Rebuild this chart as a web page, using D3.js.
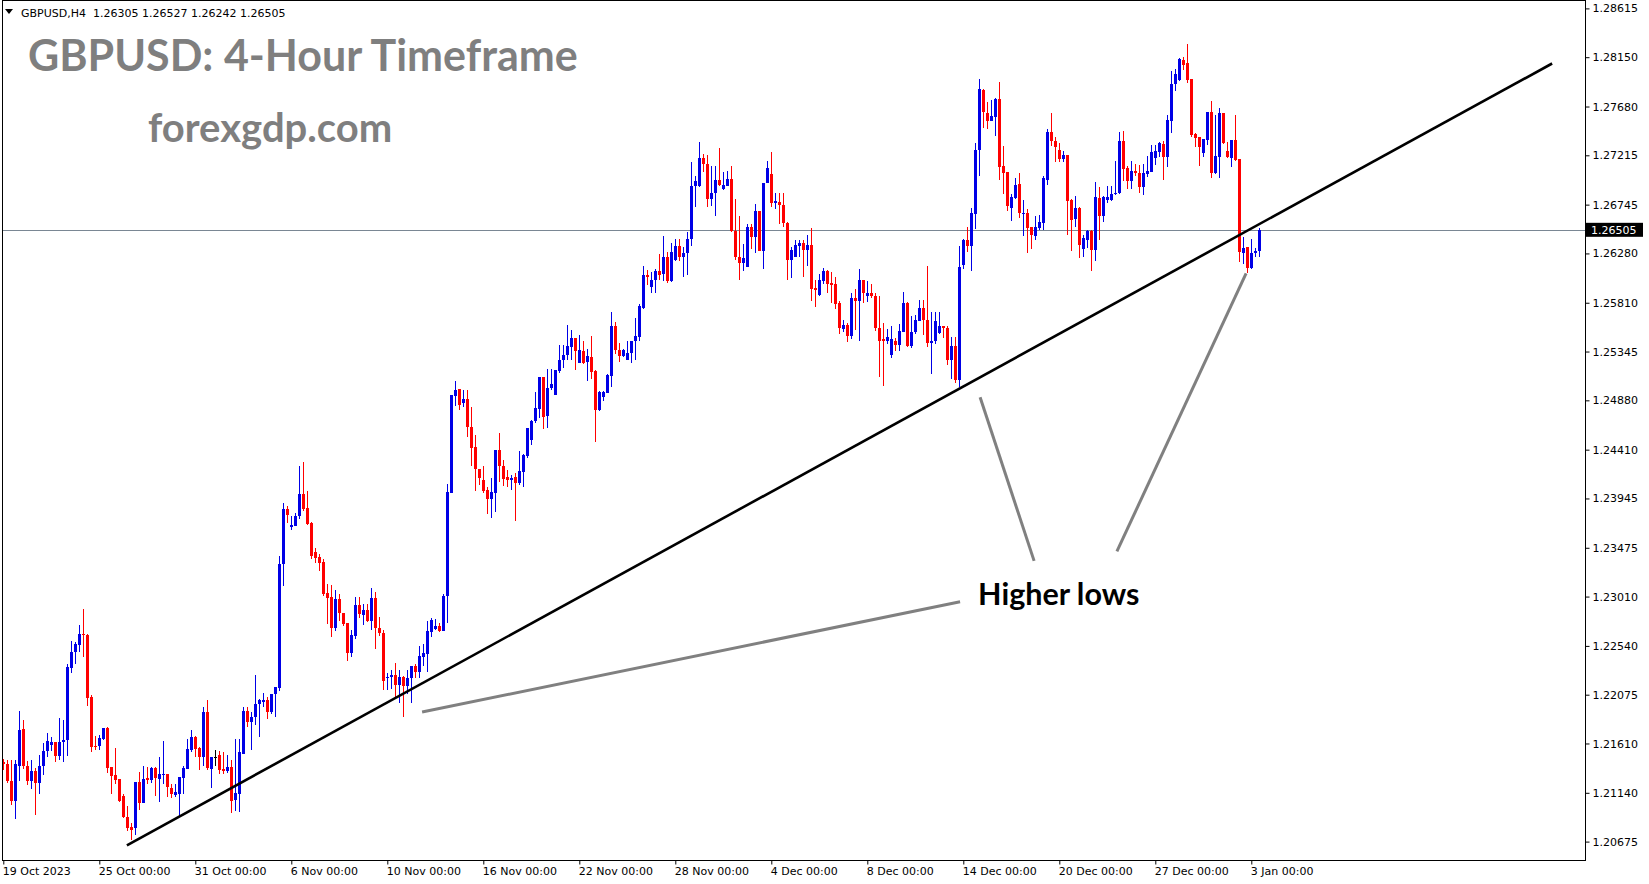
<!DOCTYPE html>
<html><head><meta charset="utf-8">
<script src="https://cdn.jsdelivr.net/npm/d3@7"></script>
<style>
html,body{margin:0;padding:0;background:#fff;}
svg{display:block;}
</style></head><body>
<svg id="chart" width="1649" height="884"></svg>
<script>
const symbolInfo = "GBPUSD,H4  1.26305 1.26527 1.26242 1.26505";
const titleText = "GBPUSD: 4-Hour Timeframe";
const siteText = "forexgdp.com";
const annotationText = "Higher lows";
const currentPrice = 1.26505;
const yTickValues = [1.28615,1.28150,1.27680,1.27215,1.26745,1.26280,1.25810,1.25345,1.24880,1.24410,1.23945,1.23475,1.23010,1.22540,1.22075,1.21610,1.21140,1.20675];
const xTickBars = [0,24,48,72,96,120,144,168,192,216,240,264,288,312];
const xTickLabels = ["19 Oct 2023","25 Oct 00:00","31 Oct 00:00","6 Nov 00:00","10 Nov 00:00","16 Nov 00:00","22 Nov 00:00","28 Nov 00:00","4 Dec 00:00","8 Dec 00:00","14 Dec 00:00","20 Dec 00:00","27 Dec 00:00","3 Jan 00:00"];

const openVals = [
1.2143,1.2141,1.2125,1.2106,1.2140,1.2175,1.2140,1.2125,1.2135,1.2123,
1.2140,1.2154,1.2160,1.2162,1.2149,1.2162,1.2164,1.2233,1.2248,1.2255,
1.2265,1.2264,1.2205,1.2159,1.2159,1.2165,1.2176,1.2139,1.2131,1.2127,
1.2111,1.2091,1.2081,1.2080,1.2124,1.2104,1.2128,1.2126,1.2138,1.2127,
1.2131,1.2132,1.2119,1.2112,1.2113,1.2128,1.2137,1.2155,1.2167,1.2157,
1.2148,1.2191,1.2137,1.2148,1.2150,1.2137,1.2135,1.2139,1.2107,1.2113,
1.2151,1.2192,1.2181,1.2186,1.2199,1.2201,1.2202,1.2191,1.2208,1.2214,
1.2332,1.2384,1.2367,1.2368,1.2378,1.2399,1.2385,1.2371,1.2343,1.2339,
1.2334,1.2304,1.2301,1.2271,1.2299,1.2285,1.2276,1.2247,1.2263,1.2293,
1.2283,1.2288,1.2278,1.2300,1.2271,1.2266,1.2223,1.2224,1.2226,1.2217,
1.2224,1.2216,1.2223,1.2235,1.2229,1.2243,1.2246,1.2267,1.2270,1.2273,
1.2268,1.2302,1.2400,1.2492,1.2499,1.2485,1.2489,1.2463,1.2444,1.2423,
1.2412,1.2403,1.2394,1.2400,1.2441,1.2425,1.2415,1.2412,1.2415,1.2409,
1.2420,1.2435,1.2450,1.2468,1.2480,1.2510,1.2473,1.2500,1.2493,1.2516,
1.2526,1.2531,1.2539,1.2547,1.2524,1.2535,1.2525,1.2529,1.2516,1.2479,
1.2491,1.2495,1.2511,1.2559,1.2536,1.2530,1.2526,1.2533,1.2545,1.2548,
1.2576,1.2607,1.2596,1.2603,1.2611,1.2608,1.2625,1.2602,1.2622,1.2635,
1.2625,1.2628,1.2642,1.2692,1.2692,1.2719,1.2713,1.2680,1.2686,1.2698,
1.2689,1.2692,1.2699,1.2649,1.2625,1.2619,1.2615,1.2653,1.2644,1.2668,
1.2630,1.2695,1.2704,1.2676,1.2677,1.2674,1.2657,1.2622,1.2625,1.2635,
1.2638,1.2631,1.2636,1.2595,1.2588,1.2602,1.2611,1.2600,1.2599,1.2581,
1.2556,1.2560,1.2549,1.2586,1.2583,1.2603,1.2587,1.2590,1.2587,1.2557,
1.2546,1.2545,1.2531,1.2545,1.2541,1.2553,1.2581,1.2540,1.2553,1.2564,
1.2576,1.2565,1.2543,1.2545,1.2552,1.2559,1.2557,1.2526,1.2540,1.2507,
1.2617,1.2641,1.2635,1.2666,1.2727,1.2784,1.2762,1.2754,1.2758,1.2775,
1.2711,1.2706,1.2671,1.2681,1.2694,1.2666,1.2667,1.2653,1.2645,1.2652,
1.2657,1.2698,1.2744,1.2735,1.2727,1.2718,1.2722,1.2679,1.2661,1.2671,
1.2632,1.2641,1.2649,1.2631,1.2681,1.2664,1.2679,1.2679,1.2685,1.2686,
1.2735,1.2709,1.2697,1.2707,1.2705,1.2691,1.2704,1.2706,1.2719,1.2725,
1.2732,1.2720,1.2754,1.2789,1.2793,1.2812,1.2809,1.2794,1.2742,1.2739,
1.2724,1.2736,1.2763,1.2705,1.2720,1.2762,1.2726,1.2719,1.2736,1.2718,
1.2628,1.2634,1.2614,1.2628,1.26305];

const highVals = [
1.2146,1.2145,1.2145,1.2145,1.2192,1.2183,1.2144,1.2145,1.2138,1.2150,
1.2161,1.2171,1.2167,1.2162,1.2185,1.2183,1.2237,1.2259,1.2258,1.2274,
1.2289,1.2265,1.2207,1.2168,1.2169,1.2176,1.2177,1.2139,1.2157,1.2127,
1.2113,1.2101,1.2085,1.2124,1.2134,1.2140,1.2139,1.2139,1.2139,1.2148,
1.2163,1.2132,1.2122,1.2122,1.2129,1.2140,1.2165,1.2174,1.2168,1.2158,
1.2196,1.2202,1.2148,1.2155,1.2154,1.2153,1.2150,1.2145,1.2165,1.2165,
1.2196,1.2196,1.2191,1.2226,1.2203,1.2209,1.2205,1.2208,1.2215,1.2340,
1.2390,1.2387,1.2378,1.2381,1.2425,1.2429,1.2402,1.2372,1.2347,1.2342,
1.2337,1.2313,1.2312,1.2307,1.2303,1.2285,1.2276,1.2269,1.2301,1.2301,
1.2294,1.2294,1.2309,1.2305,1.2282,1.2269,1.2228,1.2231,1.2238,1.2231,
1.2225,1.2231,1.2235,1.2237,1.2254,1.2256,1.2278,1.2281,1.2280,1.2276,
1.2303,1.2408,1.2493,1.2506,1.2499,1.2498,1.2498,1.2482,1.2455,1.2423,
1.2425,1.2405,1.2414,1.2441,1.2457,1.2431,1.2422,1.2417,1.2419,1.2440,
1.2437,1.2462,1.2469,1.2496,1.2510,1.2510,1.2518,1.2518,1.2517,1.2541,
1.2541,1.2560,1.2555,1.2547,1.2550,1.2545,1.2537,1.2549,1.2517,1.2497,
1.2497,1.2513,1.2572,1.2563,1.2543,1.2537,1.2545,1.2545,1.2566,1.2580,
1.2616,1.2612,1.2610,1.2613,1.2627,1.2645,1.2629,1.2638,1.2642,1.2642,
1.2634,1.2648,1.2715,1.2702,1.2734,1.2723,1.2722,1.2711,1.2711,1.2728,
1.2706,1.2707,1.2711,1.2680,1.2664,1.2637,1.2656,1.2656,1.2675,1.2668,
1.2695,1.2716,1.2725,1.2686,1.2686,1.2686,1.2658,1.2634,1.2641,1.2641,
1.2641,1.2646,1.2652,1.2603,1.2608,1.2614,1.2612,1.2610,1.2606,1.2583,
1.2565,1.2562,1.2590,1.2594,1.2613,1.2603,1.2602,1.2599,1.2590,1.2587,
1.2562,1.2556,1.2559,1.2547,1.2561,1.2591,1.2582,1.2568,1.2569,1.2584,
1.2584,1.2616,1.2572,1.2572,1.2572,1.2559,1.2559,1.2548,1.2548,1.2635,
1.2642,1.2653,1.2671,1.2733,1.2794,1.2785,1.2772,1.2774,1.2776,1.2791,
1.2730,1.2706,1.2685,1.2700,1.2705,1.2679,1.2670,1.2653,1.2664,1.2665,
1.2702,1.2747,1.2762,1.2739,1.2733,1.2726,1.2722,1.2680,1.2683,1.2672,
1.2646,1.2650,1.2650,1.2696,1.2691,1.2683,1.2692,1.2692,1.2716,1.2744,
1.2745,1.2711,1.2716,1.2713,1.2712,1.2713,1.2721,1.2731,1.2731,1.2734,
1.2735,1.2760,1.2802,1.2804,1.2814,1.2815,1.2828,1.2794,1.2743,1.2739,
1.2737,1.2763,1.2773,1.2760,1.2767,1.2762,1.2734,1.2736,1.2760,1.2718,
1.2644,1.2634,1.2642,1.2633,1.26527];

const lowVals = [
1.2136,1.2123,1.2102,1.2089,1.2125,1.2137,1.2121,1.2118,1.2093,1.2113,
1.2131,1.2148,1.2154,1.2143,1.2145,1.2143,1.2149,1.2228,1.2237,1.2248,
1.2243,1.2197,1.2153,1.2155,1.2155,1.2164,1.2133,1.2113,1.2122,1.2105,
1.2090,1.2078,1.2069,1.2074,1.2098,1.2104,1.2122,1.2123,1.2111,1.2105,
1.2122,1.2110,1.2109,1.2110,1.2092,1.2113,1.2137,1.2153,1.2148,1.2136,
1.2140,1.2136,1.2119,1.2140,1.2132,1.2132,1.2133,1.2095,1.2097,1.2096,
1.2151,1.2177,1.2155,1.2179,1.2167,1.2196,1.2184,1.2189,1.2186,1.2211,
1.2311,1.2371,1.2364,1.2368,1.2375,1.2383,1.2369,1.2337,1.2333,1.2325,
1.2302,1.2275,1.2262,1.2268,1.2278,1.2273,1.2240,1.2243,1.2261,1.2281,
1.2274,1.2277,1.2269,1.2251,1.2263,1.2212,1.2212,1.2213,1.2205,1.2200,
1.2186,1.2208,1.2200,1.2223,1.2223,1.2235,1.2229,1.2262,1.2269,1.2267,
1.2268,1.2276,1.2400,1.2483,1.2479,1.2482,1.2453,1.2425,1.2402,1.2407,
1.2400,1.2380,1.2376,1.2382,1.2410,1.2406,1.2405,1.2403,1.2373,1.2407,
1.2405,1.2433,1.2445,1.2466,1.2471,1.2461,1.2462,1.2498,1.2493,1.2514,
1.2519,1.2526,1.2526,1.2517,1.2524,1.2523,1.2506,1.2508,1.2448,1.2478,
1.2487,1.2495,1.2501,1.2532,1.2525,1.2529,1.2526,1.2524,1.2526,1.2545,
1.2575,1.2598,1.2590,1.2590,1.2603,1.2602,1.2600,1.2601,1.2621,1.2621,
1.2606,1.2607,1.2635,1.2672,1.2691,1.2706,1.2672,1.2673,1.2664,1.2692,
1.2688,1.2692,1.2648,1.2622,1.2603,1.2611,1.2615,1.2632,1.2628,1.2630,
1.2613,1.2695,1.2672,1.2670,1.2656,1.2653,1.2603,1.2605,1.2625,1.2625,
1.2606,1.2616,1.2583,1.2577,1.2587,1.2599,1.2590,1.2581,1.2575,1.2551,
1.2553,1.2544,1.2546,1.2555,1.2545,1.2581,1.2582,1.2586,1.2554,1.2510,
1.2502,1.2542,1.2528,1.2535,1.2535,1.2553,1.2539,1.2538,1.2551,1.2564,
1.2550,1.2539,1.2513,1.2542,1.2551,1.2547,1.2522,1.2508,1.2505,1.2501,
1.2613,1.2629,1.2611,1.2651,1.2702,1.2748,1.2747,1.2754,1.2740,1.2698,
1.2685,1.2668,1.2659,1.2680,1.2662,1.2645,1.2628,1.2632,1.2641,1.2650,
1.2650,1.2693,1.2730,1.2715,1.2715,1.2715,1.2646,1.2630,1.2653,1.2624,
1.2625,1.2633,1.2611,1.2621,1.2641,1.2658,1.2676,1.2678,1.2684,1.2685,
1.2697,1.2689,1.2689,1.2702,1.2686,1.2684,1.2701,1.2706,1.2712,1.2720,
1.2698,1.2710,1.2743,1.2783,1.2792,1.2803,1.2790,1.2739,1.2729,1.2711,
1.2720,1.2731,1.2700,1.2704,1.2700,1.2732,1.2719,1.2710,1.2716,1.2620,
1.2618,1.2609,1.2613,1.2625,1.26242];

const closeVals = [
1.2141,1.2125,1.2106,1.2141,1.2174,1.2140,1.2125,1.2135,1.2123,1.2140,
1.2154,1.2163,1.2162,1.2149,1.2162,1.2164,1.2234,1.2248,1.2256,1.2265,
1.2264,1.2204,1.2158,1.2158,1.2166,1.2176,1.2138,1.2130,1.2126,1.2106,
1.2091,1.2080,1.2079,1.2124,1.2104,1.2127,1.2126,1.2138,1.2128,1.2132,
1.2132,1.2120,1.2113,1.2115,1.2129,1.2138,1.2156,1.2167,1.2156,1.2148,
1.2191,1.2138,1.2148,1.2148,1.2136,1.2135,1.2139,1.2106,1.2114,1.2153,
1.2192,1.2181,1.2186,1.2199,1.2202,1.2202,1.2191,1.2208,1.2215,1.2332,
1.2384,1.2379,1.2369,1.2378,1.2399,1.2384,1.2370,1.2340,1.2338,1.2333,
1.2303,1.2300,1.2271,1.2299,1.2285,1.2275,1.2247,1.2264,1.2293,1.2284,
1.2288,1.2278,1.2300,1.2271,1.2266,1.2221,1.2224,1.2226,1.2217,1.2224,
1.2216,1.2223,1.2235,1.2229,1.2244,1.2247,1.2268,1.2279,1.2273,1.2268,
1.2302,1.2401,1.2493,1.2498,1.2484,1.2489,1.2463,1.2443,1.2423,1.2414,
1.2402,1.2394,1.2401,1.2441,1.2425,1.2413,1.2412,1.2414,1.2409,1.2421,
1.2436,1.2462,1.2468,1.2481,1.2510,1.2472,1.2500,1.2504,1.2517,1.2526,
1.2531,1.2540,1.2547,1.2535,1.2536,1.2524,1.2530,1.2515,1.2479,1.2496,
1.2496,1.2512,1.2559,1.2536,1.2530,1.2536,1.2533,1.2545,1.2549,1.2578,
1.2607,1.2606,1.2603,1.2611,1.2607,1.2625,1.2602,1.2629,1.2635,1.2625,
1.2628,1.2642,1.2692,1.2697,1.2719,1.2713,1.2680,1.2686,1.2698,1.2693,
1.2693,1.2699,1.2649,1.2625,1.2619,1.2624,1.2653,1.2644,1.2668,1.2630,
1.2695,1.2709,1.2676,1.2678,1.2674,1.2657,1.2622,1.2631,1.2636,1.2638,
1.2631,1.2636,1.2594,1.2593,1.2603,1.2611,1.2599,1.2598,1.2580,1.2557,
1.2560,1.2549,1.2586,1.2583,1.2603,1.2590,1.2590,1.2587,1.2557,1.2545,
1.2545,1.2548,1.2546,1.2541,1.2554,1.2581,1.2540,1.2553,1.2565,1.2576,
1.2565,1.2543,1.2545,1.2564,1.2559,1.2557,1.2526,1.2540,1.2507,1.2615,
1.2641,1.2635,1.2667,1.2727,1.2785,1.2763,1.2754,1.2759,1.2775,1.2710,
1.2705,1.2673,1.2682,1.2693,1.2667,1.2667,1.2652,1.2646,1.2653,1.2658,
1.2700,1.2744,1.2735,1.2729,1.2718,1.2722,1.2678,1.2660,1.2671,1.2636,
1.2643,1.2649,1.2631,1.2682,1.2664,1.2682,1.2682,1.2685,1.2686,1.2735,
1.2708,1.2697,1.2707,1.2705,1.2691,1.2705,1.2707,1.2725,1.2726,1.2733,
1.2720,1.2755,1.2789,1.2799,1.2813,1.2808,1.2793,1.2741,1.2738,1.2729,
1.2737,1.2763,1.2705,1.2721,1.2762,1.2733,1.2720,1.2736,1.2717,1.2629,
1.2633,1.2614,1.2628,1.2630,1.26505];

// trendline and pointer lines as [barIndex, price] pairs
const trendLine = [[30.9, 1.2064], [387.2, 1.2809]];
const pointerLines = [
  [[104.7, 1.2191], [239.2, 1.2296]],
  [[244.2, 1.2491], [257.7, 1.2335]],
  [[310.7, 1.2609], [278.4, 1.2344]]
];

const W = 1649, H = 884;
const plot = {left: 2, top: 0, right: 1585, bottom: 860};
const axisFont = "'DejaVu Sans','Liberation Sans',sans-serif";
const titleFont = "Lato, 'Open Sans', sans-serif";

const x = d3.scaleLinear().domain([0, 395]).range([3.3, 1583.3]);
const y = d3.scaleLinear().domain([1.20675, 1.28615]).range([841.6, 8.4]);

const svg = d3.select("#chart");
svg.append("rect").attr("width", W).attr("height", H).attr("fill", "#fff");

svg.append("clipPath").attr("id", "plotclip").append("rect")
  .attr("x", plot.left).attr("y", plot.top)
  .attr("width", plot.right - plot.left).attr("height", plot.bottom - plot.top);

const g = svg.append("g").attr("clip-path", "url(#plotclip)");

// current price horizontal line
g.append("line")
  .attr("x1", plot.left).attr("x2", plot.right)
  .attr("y1", Math.round(y(currentPrice)) + 0.5).attr("y2", Math.round(y(currentPrice)) + 0.5)
  .attr("stroke", "#7a8794").attr("stroke-width", 1);

const candles = openVals.map((o, i) => ({i, o, h: highVals[i], l: lowVals[i], c: closeVals[i]}));
const colorOf = d => d.c > d.o ? "#0000e6" : (d.c < d.o ? "#ff0000" : "#000000");

const cg = g.append("g").attr("shape-rendering", "crispEdges");
cg.selectAll("line.wick").data(candles).join("line")
  .attr("class", "wick")
  .attr("x1", d => Math.round(x(d.i)) + 0.5).attr("x2", d => Math.round(x(d.i)) + 0.5)
  .attr("y1", d => y(d.h)).attr("y2", d => y(d.l))
  .attr("stroke", colorOf).attr("stroke-width", 1);
cg.selectAll("rect.body").data(candles).join("rect")
  .attr("class", "body")
  .attr("x", d => Math.round(x(d.i)) - 1)
  .attr("width", 3)
  .attr("y", d => y(Math.max(d.o, d.c)))
  .attr("height", d => Math.max(1, Math.abs(y(d.o) - y(d.c))))
  .attr("fill", colorOf);

// trendline
const lineGen = d3.line().x(d => x(d[0])).y(d => y(d[1]));
g.append("path").datum(trendLine).attr("d", lineGen)
  .attr("stroke", "#000").attr("stroke-width", 2.6).attr("fill", "none");

// pointer lines
g.selectAll("path.pointer").data(pointerLines).join("path")
  .attr("class", "pointer").attr("d", lineGen)
  .attr("stroke", "#808080").attr("stroke-width", 3).attr("fill", "none");

// frame
svg.append("rect")
  .attr("x", plot.left + 0.5).attr("y", plot.top + 0.5)
  .attr("width", plot.right - plot.left).attr("height", plot.bottom - plot.top)
  .attr("fill", "none").attr("stroke", "#000").attr("stroke-width", 1);

// y axis (right)
const yAxis = d3.axisRight(y).tickValues(yTickValues).tickFormat(d3.format(".5f")).tickSize(4).tickPadding(3);
const yg = svg.append("g").attr("transform", `translate(${plot.right + 0.5},0)`).call(yAxis);
yg.select(".domain").remove();
yg.selectAll("line").attr("stroke", "#000");
yg.selectAll("text").attr("font-family", axisFont).attr("font-size", 11).attr("fill", "#000");

// x axis (bottom)
const xAxis = d3.axisBottom(x).tickValues(xTickBars).tickFormat((d, i) => xTickLabels[i]).tickSize(4).tickPadding(3);
const xg = svg.append("g").attr("transform", `translate(0,${plot.bottom + 0.5})`).call(xAxis);
xg.select(".domain").remove();
xg.selectAll("line").attr("stroke", "#000");
xg.selectAll("text").attr("font-family", axisFont).attr("font-size", 11).attr("fill", "#000")
  .attr("text-anchor", "start").attr("x", -1);

// current price tag
const cpY = y(currentPrice);
svg.append("rect").attr("x", plot.right + 1).attr("y", cpY - 7)
  .attr("width", 57).attr("height", 14).attr("fill", "#000");
svg.append("text").attr("x", plot.right + 6).attr("y", cpY).attr("dy", "0.35em")
  .attr("font-family", axisFont).attr("font-size", 11).attr("fill", "#fff")
  .text(d3.format(".5f")(currentPrice));

// header
svg.append("path").attr("d", "M5,9 L13,9 L9,14 Z").attr("fill", "#000");
svg.append("text").attr("x", 21).attr("y", 16.5)
  .attr("font-family", axisFont).attr("font-size", 11).attr("fill", "#000")
  .attr("xml:space", "preserve").style("white-space", "pre")
  .text(symbolInfo);

// titles
svg.append("text").attr("x", 28).attr("y", 71)
  .attr("font-family", titleFont).attr("font-weight", "bold")
  .attr("font-size", 43).attr("fill", "#7f7f7f").text(titleText);
svg.append("text").attr("x", 148).attr("y", 142)
  .attr("font-family", titleFont).attr("font-weight", "bold")
  .attr("font-size", 40).attr("fill", "#7f7f7f").text(siteText);

// annotation
svg.append("text").attr("x", x(243.7)).attr("y", y(1.2293))
  .attr("font-family", titleFont).attr("font-weight", "bold")
  .attr("font-size", 30.5).attr("fill", "#000").text(annotationText);
</script>
</body></html>
